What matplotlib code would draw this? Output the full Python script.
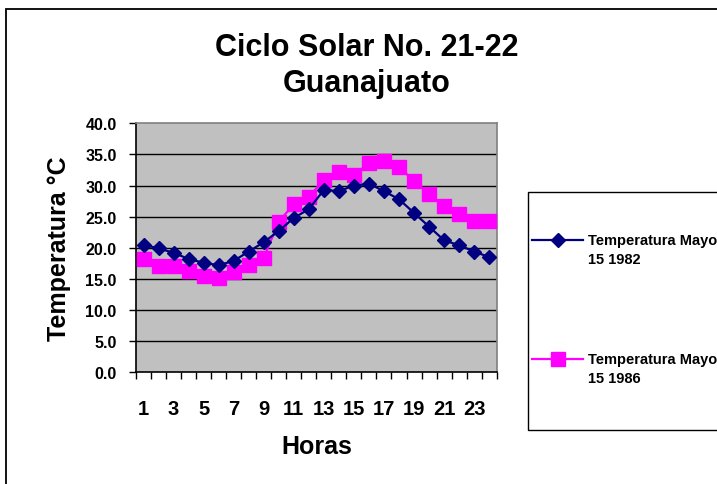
import matplotlib
matplotlib.use("Agg")
import matplotlib.pyplot as plt
from matplotlib.lines import Line2D
from matplotlib.patches import Rectangle

plt.rcParams['font.family'] = ['Liberation Sans', 'DejaVu Sans']
plt.rcParams['font.weight'] = 'bold'

# hourly temperatures, May 15
horas = list(range(1, 25))
temp_1982 = [20.5, 19.9, 19.2, 18.2, 17.6, 17.2, 17.9, 19.4, 20.9, 22.7, 24.8, 26.2,
             29.3, 29.1, 30.0, 30.3, 29.1, 27.8, 25.6, 23.4, 21.2, 20.4, 19.4, 18.5]
temp_1986 = [18.2, 17.1, 17.0, 16.3, 15.4, 15.1, 16.1, 17.2, 18.4, 24.2, 27.0, 28.2,
             30.9, 32.1, 31.7, 33.6, 33.9, 32.9, 30.8, 28.6, 26.7, 25.5, 24.3, 24.3]
etiquetas = ["Temperatura Mayo\n15 1982", "Temperatura Mayo\n15 1986"]
y_ticks = [0, 5, 10, 15, 20, 25, 30, 35, 40]

W, H = 717, 485
fig = plt.figure(figsize=(W / 100, H / 100), dpi=100)

def fx(px):
    return px / W

def fy(py):
    return 1 - py / H

# chart area border
fig.add_artist(Rectangle((fx(6), fy(600)), fx(800), fy(10) - fy(600),
                         transform=fig.transFigure, fill=False,
                         edgecolor='black', linewidth=1.3))

ax = fig.add_axes([fx(136), fy(373.3), fx(496.7) - fx(136), fy(124.3) - fy(373.3)])
ax.set_facecolor('#C0C0C0')

estilos = [
    dict(color='#000080', marker='D', markersize=7, linewidth=1.6, zorder=4),
    dict(color='#FF00FF', marker='s', markersize=10.5, linewidth=1.6, zorder=3),
]
for serie, st in zip([temp_1982, temp_1986], estilos):
    ax.plot(horas, serie, clip_on=False, **st)

ax.set_xlim(0.5, 24.5)
ax.set_ylim(0, 40)
for y in y_ticks[1:-1]:
    ax.axhline(y, color='black', linewidth=1, zorder=1)

ax.set_yticks(y_ticks)
ax.set_yticklabels([f"{v:.1f}" for v in y_ticks], fontsize=11.5, fontweight='bold')
ax.set_xticks([i + 0.5 for i in range(0, 25)])
ax.set_xticklabels([])
ax.set_xticks(horas[::2], minor=True)
ax.set_xticklabels([str(h) for h in horas[::2]], minor=True, fontsize=14.5, fontweight='bold')
ax.tick_params(axis='x', which='minor', length=0, pad=19)
ax.tick_params(axis='x', which='major', direction='out', length=5, width=1)
ax.tick_params(axis='y', direction='out', length=5, width=1, pad=9)

ax.spines['left'].set_color('black')
ax.spines['bottom'].set_color('black')
ax.spines['top'].set_color('#808080')
ax.spines['right'].set_color('#808080')
for s in ax.spines.values():
    s.set_linewidth(1.2)

ax.set_xlabel("Horas", fontsize=18, fontweight='bold', labelpad=12)
ax.set_ylabel("Temperatura °C", fontsize=18, fontweight='bold', labelpad=10)

fig.text(fx(367), fy(48), "Ciclo Solar No. 21-22", ha='center', va='center',
         fontsize=22, fontweight='bold')
fig.text(fx(367), fy(84), "Guanajuato", ha='center', va='center',
         fontsize=22, fontweight='bold')

# legend box
fig.add_artist(Rectangle((fx(528), fy(431)), fx(400), fy(193) - fy(431),
                         transform=fig.transFigure, facecolor='white',
                         edgecolor='black', linewidth=1))
for y_px, st, lab in zip([241, 360], estilos, etiquetas):
    linea = Line2D([fx(532), fx(557.5), fx(583)], [fy(y_px)] * 3,
                   transform=fig.transFigure, markevery=[1], **st)
    fig.add_artist(linea)
    fig.text(fx(588), fy(y_px - 7), lab, ha='left', va='top',
             fontsize=10.5, fontweight='bold', linespacing=1.45)

fig.savefig("out.png", dpi=100)
